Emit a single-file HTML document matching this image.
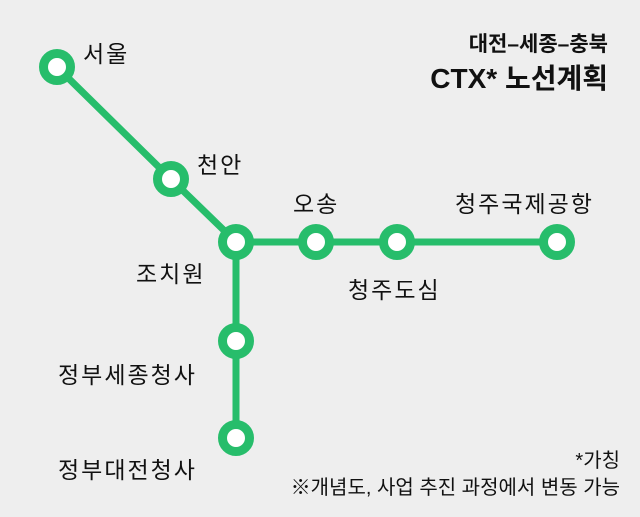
<!DOCTYPE html>
<html><head><meta charset="utf-8"><style>
html,body{margin:0;padding:0;background:#eeeeee;}
svg{display:block}
text{font-family:"Liberation Sans","Noto Sans CJK KR",sans-serif;fill:#111;}
</style></head><body>
<svg width="640" height="517" viewBox="0 0 640 517" xmlns="http://www.w3.org/2000/svg">
<rect width="640" height="517" fill="#eeeeee"/>
<g stroke="#27bd6b" stroke-width="7" fill="none">
<polyline points="57,67 171,179 236,242 557,242"/>
<line x1="236" y1="242" x2="236" y2="438"/>
</g>
<g fill="#ffffff" stroke="#27bd6b" stroke-width="9">
<circle cx="57" cy="67" r="13.5"/>
<circle cx="171" cy="179" r="13.5"/>
<circle cx="236" cy="242" r="13.5"/>
<circle cx="316" cy="242" r="13.5"/>
<circle cx="397" cy="242" r="13.5"/>
<circle cx="557" cy="242" r="13.5"/>
<circle cx="236" cy="341" r="13.5"/>
<circle cx="236" cy="438" r="13.5"/>
</g>
<g font-size="23" letter-spacing="2">
<text x="83" y="62">서울</text>
<text x="197" y="173">천안</text>
<text x="293" y="212">오송</text>
<text x="455" y="212">청주국제공항</text>
<text x="348" y="298">청주도심</text>
<text x="136" y="282">조치원</text>
<text x="58" y="383">정부세종청사</text>
<text x="58" y="478">정부대전청사</text>
</g>
<text x="608" y="51" font-size="21" font-weight="bold" text-anchor="end">대전–세종–충북</text>
<text x="608" y="88" font-size="28" font-weight="bold" text-anchor="end">CTX* 노선계획</text>
<text x="620" y="467" font-size="20" text-anchor="end">*가칭</text>
<text x="620" y="494" font-size="20" text-anchor="end">※개념도, 사업 추진 과정에서 변동 가능</text>
</svg>
</body></html>
